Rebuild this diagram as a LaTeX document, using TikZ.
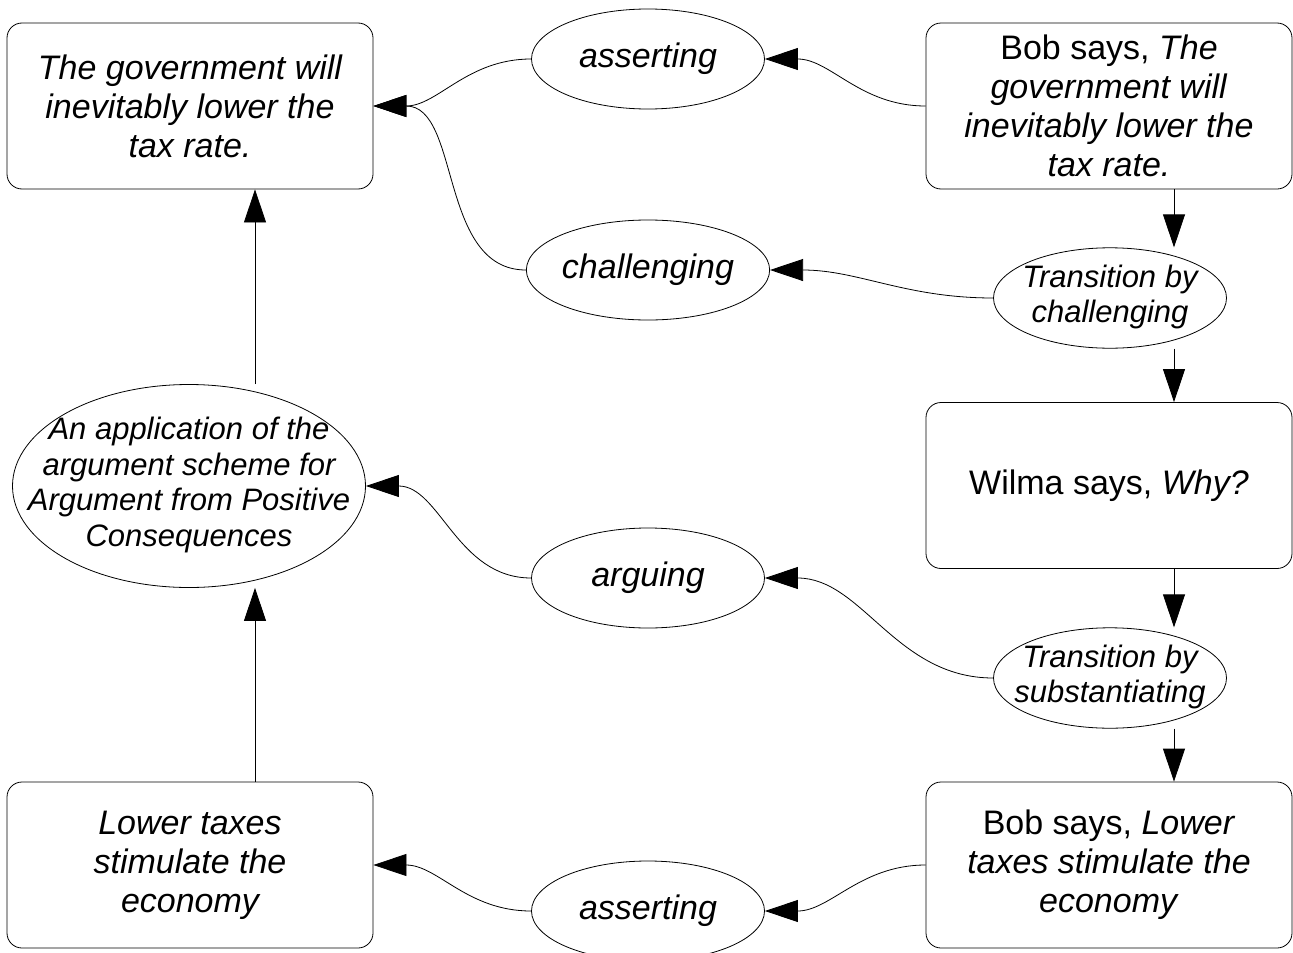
\documentclass[tikz,border=0pt]{standalone}
\usepackage{fontspec}
\setmainfont{Liberation Sans}
\usetikzlibrary{arrows.meta,shapes.geometric}

\newcommand{\nowide}[1]{\makebox[0pt]{\begin{tabular}{@{}c@{}}#1\end{tabular}}}

\tikzset{
  stmt/.style={draw, line width=0.8pt, rounded corners=15pt, minimum width=366pt, minimum height=166pt, inner sep=2pt, align=center, font=\fontsize{34}{39}\selectfont},
  prop/.style={stmt, font=\fontsize{34}{39}\selectfont\itshape},
  rel/.style={draw, line width=0.8pt, ellipse, minimum width=233pt, minimum height=100pt, inner sep=0pt, font=\fontsize{34}{39}\selectfont\itshape},
  smallrel/.style={rel, font=\fontsize{31}{35.5}\selectfont\itshape},
  arr/.style={-{Triangle[length=33pt,width=22pt]}, line width=0.8pt},
}

\begin{document}
\begin{tikzpicture}[x=1pt,y=-1pt]
\useasboundingbox (0,0) rectangle (1293,953);
\clip (0,0) rectangle (1293,953);

\node[prop] (gov) at (190,106) {The government will\\inevitably lower the\\tax rate.};
\node[stmt] (bob1) at (1109,106) {Bob says, \textit{The}\\\textit{government will}\\\textit{inevitably lower the}\\\textit{tax rate.}};
\node[stmt] (wilma) at (1109,485.5) {Wilma says, \textit{Why?}};
\node[stmt] (bob2) at (1109,865) {Bob says, \textit{Lower}\\\textit{taxes stimulate the}\\\textit{economy}};
\node[prop] (lower) at (190,865) {Lower taxes\\stimulate the\\economy};

\node[rel] (assert1) at (648,59) {asserting};
\node[rel] (chall) at (648,270) {challenging};
\node[rel] (argu) at (648,578) {arguing};
\node[rel] (assert2) at (648,911) {asserting};
\node[smallrel] (trans1) at (1110,298) {\nowide{Transition by\\challenging}};
\node[smallrel] (trans2) at (1110,678) {\nowide{Transition by\\substantiating}};
\node[smallrel, minimum width=353pt, minimum height=203pt] (scheme) at (189,486) {\nowide{An application of the\\argument scheme for\\Argument from Positive\\Consequences}};

\coordinate (lx) at (255,0);
\coordinate (rx) at (1174,0);

\draw[arr] (bob1.west) to[out=180,in=0] (assert1.east);
\draw[arr] (assert1.west) to[out=180,in=0] (gov.east);
\draw[arr] (trans1.west) to[out=180,in=0] (chall.east);
\draw[arr] (chall.west) to[out=180,in=0] (gov.east);
\draw[arr] (trans2.west) to[out=180,in=0] (argu.east);
\draw[arr] (argu.west) to[out=180,in=0] (scheme.east);
\draw[arr] (bob2.west) to[out=180,in=0] (assert2.east);
\draw[arr] (assert2.west) to[out=180,in=0] (lower.east);

\draw[arr] (bob1.south -| rx) -- (trans1.north -| rx);
\draw[arr] (trans1.south -| rx) -- (wilma.north -| rx);
\draw[arr] (wilma.south -| rx) -- (trans2.north -| rx);
\draw[arr] (trans2.south -| rx) -- (bob2.north -| rx);
\draw[arr] (lower.north -| lx) -- (scheme.south -| lx);
\draw[arr] (scheme.north -| lx) -- (gov.south -| lx);

\end{tikzpicture}
\end{document}
